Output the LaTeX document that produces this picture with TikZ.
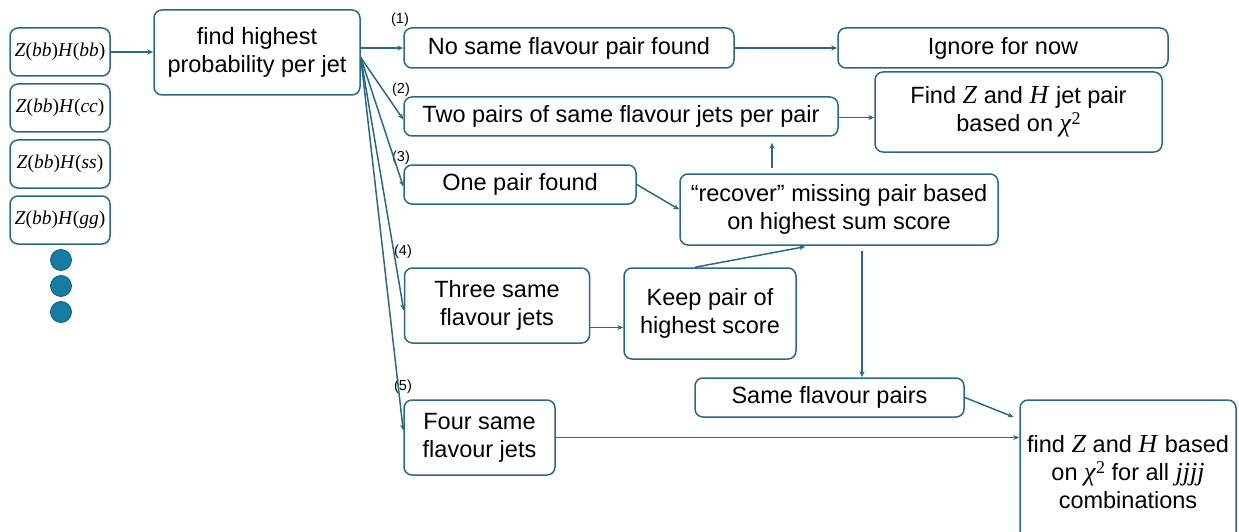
\documentclass[tikz,border=0pt]{standalone}
\usepackage{fontspec}
\setmainfont{Liberation Sans}
\newfontfamily\tms{Liberation Serif}
\usetikzlibrary{arrows.meta}
\definecolor{edge}{RGB}{42,104,132}
\definecolor{dotblue}{RGB}{22,124,162}
\definecolor{dotrim}{RGB}{18,92,122}
% italic serif variables with upright parentheses
\newcommand{\zh}[2]{{\tms\itshape Z\/\upshape(\itshape #1\/\upshape)\itshape H\/\upshape(\itshape #2\/\upshape)}}
\newcommand{\var}[1]{{\tms\fontsize{26}{28}\selectfont\itshape #1\/}}
\newcommand{\chisq}{{\tms\fontsize{26}{28}\selectfont\itshape χ\/}\raisebox{0.6ex}{\tms\fontsize{18}{18}\selectfont 2}}
\begin{document}
\begin{tikzpicture}[x=1pt,y=-1pt,
  box/.style={draw=edge, line width=1.5pt, rounded corners=8pt, align=center,
    inner sep=0pt, fill=white, font=\fontsize{23.5}{28}\selectfont},
  small/.style={box, font=\fontsize{19.5}{22}\selectfont},
  arr/.style={draw=edge, line width=1.5pt, -{Stealth[length=6pt,width=5pt]}},
  tag/.style={inner sep=0pt, font=\fontsize{14.5}{14.5}\selectfont},
  dot/.style={circle, fill=dotblue, draw=dotrim, line width=0.8pt, minimum size=21pt, inner sep=0pt}]
\useasboundingbox (0,0) rectangle (1239,532);

% input samples
\node[small, minimum width=100, minimum height=48] (zbb) at (60,52) {\zh{bb}{bb}};
\node[small, minimum width=100, minimum height=48] (zcc) at (60,108) {\zh{bb}{cc}};
\node[small, minimum width=100, minimum height=48] (zss) at (60,164) {\zh{bb}{ss}};
\node[small, minimum width=100, minimum height=48] (zgg) at (60,220) {\zh{bb}{gg}};
\node[dot] (d1) at (61,260) {};
\node[dot] (d2) at (61,286) {};
\node[dot] (d3) at (61,312) {};

% first step
\node[box, minimum width=206, minimum height=85] (find) at (257,52.5) {find highest\\probability per jet};

% cases
\node[box, minimum width=330, minimum height=40] (n1) at (569,48) {No same flavour pair found};
\node[box, minimum width=434, minimum height=39] (n2) at (621,116.5) {Two pairs of same flavour jets per pair};
\node[box, minimum width=232, minimum height=39] (n3) at (520,184.5) {One pair found};
\node[box, minimum width=185, minimum height=75] (n4) at (497,305.5) {Three same\\flavour jets};
\node[box, minimum width=151, minimum height=75] (n5) at (479.5,437.5) {Four same\\flavour jets};

\node[tag] (t1) at (400,20) {(1)};
\node[tag] (t2) at (401,90) {(2)};
\node[tag] (t3) at (401,158) {(3)};
\node[tag] (t4) at (403,252) {(4)};
\node[tag] (t5) at (403,387) {(5)};

% follow-up steps
\node[box, minimum width=330, minimum height=40] (ign) at (1003,48) {Ignore for now};
\node[box, minimum width=287, minimum height=80] (fzh) at (1018.5,112) {Find \var{Z} and \var{H} jet pair\\based on \chisq};
\node[box, minimum width=318, minimum height=71] (rec) at (839,209.5) {“recover” missing pair based\\on highest sum score};
\node[box, minimum width=172, minimum height=91] (keep) at (710,313.5) {Keep pair of\\highest score};
\node[box, minimum width=269, minimum height=39] (sfp) at (829.5,397.5) {Same flavour pairs};
\node[box, minimum width=216, minimum height=144, text depth=0pt] (fin) at (1128,472) {find \var{Z} and \var{H} based\\on \chisq{} for all \var{jjjj}\\combinations};

% connectors
\draw[arr] (zbb) -- (zbb -| find.west);
\coordinate (fo) at ([yshift=-5pt]find.east);
\draw[arr] (find.east |- n1.west) -- (n1.west);
\draw[arr] (fo) -- ([yshift=-3pt]n2.west);
\draw[arr] (fo) -- ([yshift=-2pt]n3.west);
\draw[arr] (fo) -- ([yshift=-5pt]n4.west);
\draw[arr] (fo) -- ([yshift=7pt]n5.west);

\draw[arr] (n1) -- (n1 -| ign.west);
\draw[arr] ([yshift=-1pt]n2.east) -- ([yshift=-1pt]n2.east -| fzh.west);
\draw[arr] (n3.east) -- (rec.west);
\draw[arr, shorten <=5pt, shorten >=6pt] ([xshift=-67pt]rec.north) -- ([xshift=-67pt]rec.north |- n2.south);
\draw[arr] ([yshift=-22pt]n4.east) -- ([yshift=-22pt]n4.east -| keep.west);
\draw[arr, shorten >=5pt] ([xshift=-15pt]keep.north) -- ([xshift=-29pt]rec.south);
\draw[arr, shorten <=5pt] ([xshift=23pt]rec.south) -- ([xshift=23pt]rec.south |- sfp.north);
\draw[arr, shorten >=6pt] (sfp.east) -- ([yshift=-20pt]fin.north west);
\draw[arr] (n5) -- (n5 -| fin.west);
\end{tikzpicture}
\end{document}
